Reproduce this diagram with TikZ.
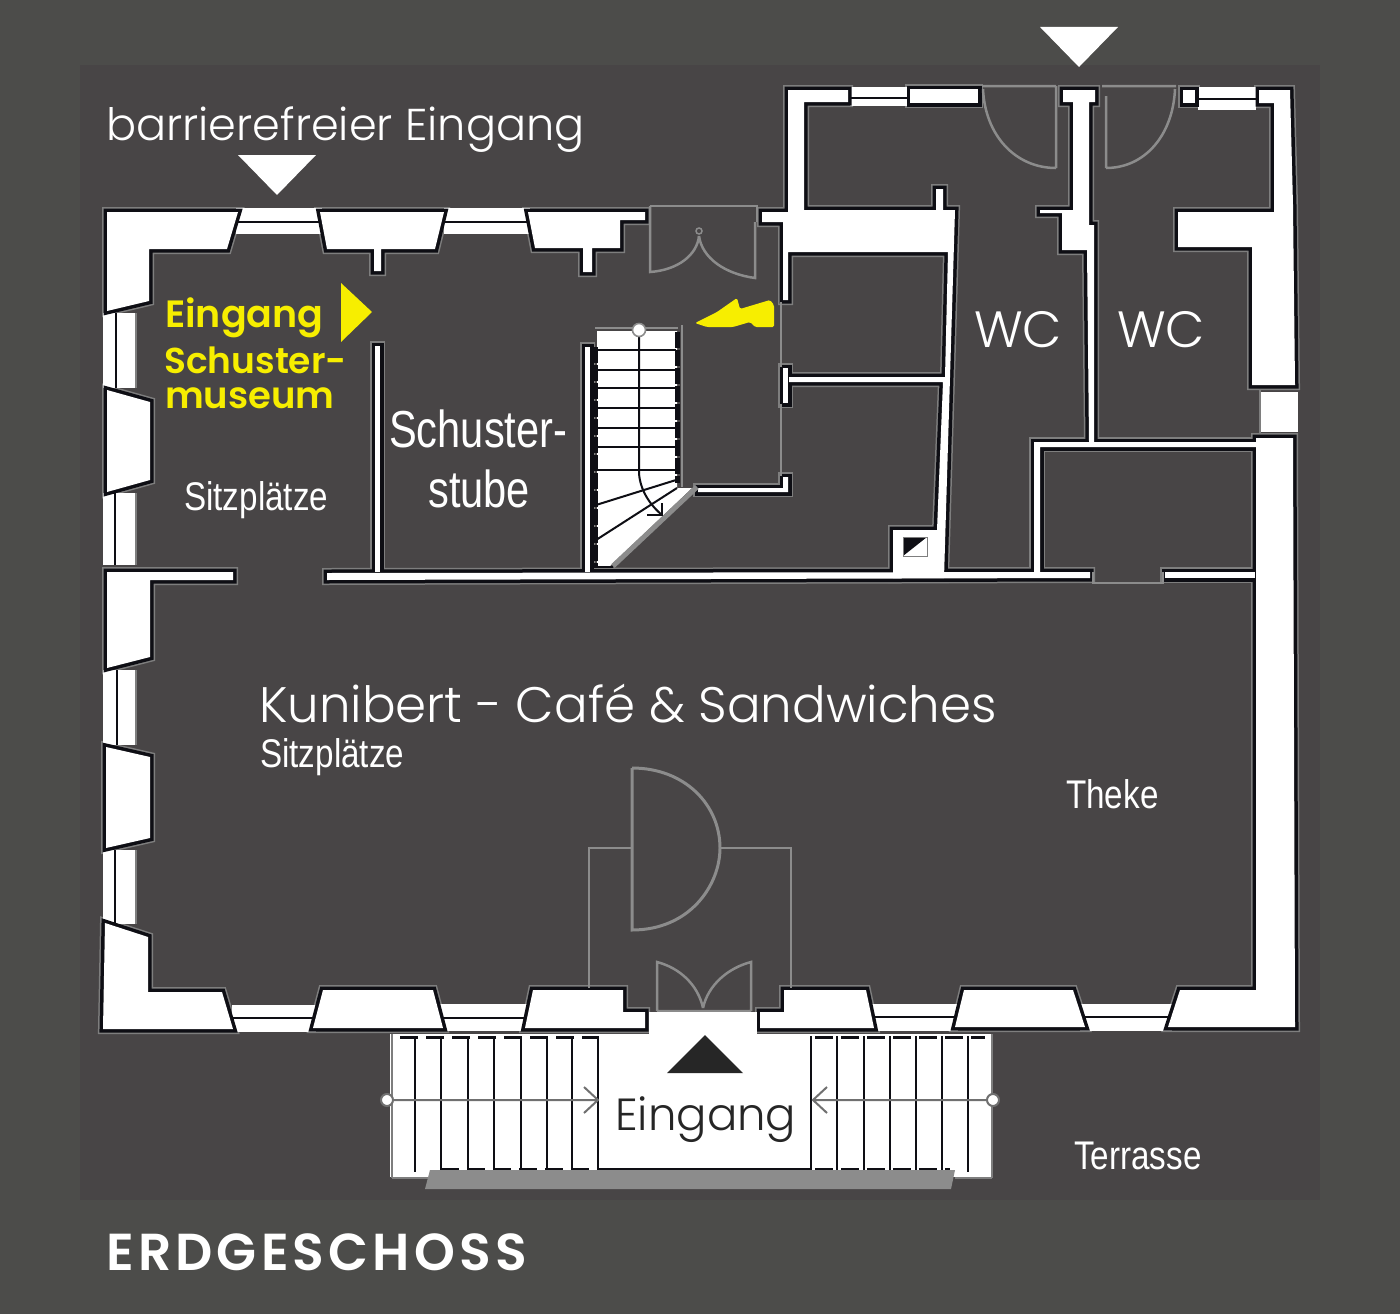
\documentclass[tikz,border=0pt]{standalone}
\usepackage{fontspec}
\setmainfont{Liberation Sans}
\newfontfamily\narrowfont[FakeStretch=0.8]{Liberation Sans}
\newfontfamily\widerfont[FakeStretch=0.83]{Liberation Sans}
\newfontfamily\geofont{Poppins Light}
\newfontfamily\boldgeo{Poppins SemiBold}
\newfontfamily\titlefont[LetterSpace=8]{Poppins SemiBold}
\definecolor{outerbg}{HTML}{4C4C4A}
\definecolor{innerbg}{HTML}{484546}
\definecolor{edgegray}{HTML}{7E7E7E}
\definecolor{doorgray}{HTML}{8C8C8C}
\definecolor{wallink}{HTML}{0E0E14}
\definecolor{signyellow}{HTML}{F7EE00}
\newcommand{\wallset}[1]{%
 \path[#1] (107,212)--(238,212)--(227,249)--(149,249)--(149,301)--(107,311)--cycle;
 \path[#1] (320,212)--(444,212)--(435,249)--(381,249)--(381,271)--(374,271)--(374,249)--(327,249)--cycle;
 \path[#1] (528,212)--(645,212)--(645,220)--(620,220)--(620,248)--(592,248)--(592,272)--(583,272)--(583,248)--(535,248)--cycle;
 \path[#1] (107,390)--(150,402)--(150,480)--(107,492)--cycle;
 \path[#1] (107,572)--(233,572)--(233,580)--(150,580)--(150,657)--(107,668)--cycle;
 \path[#1] (106,747)--(150,757)--(150,838)--(106,848)--cycle;
 \path[#1] (105,923)--(148,937)--(148,992)--(222,992)--(233,1029)--(103,1029)--cycle;
 \path[#1] (323,990)--(433,990)--(443,1028)--(313,1028)--cycle;
 \path[#1] (533,990)--(623,990)--(623,1012)--(645,1012)--(645,1028)--(525,1028)--cycle;
 \path[#1] (760,1028)--(760,1012)--(784,1012)--(784,990)--(866,990)--(874,1028)--cycle;
 \path[#1] (964,990)--(1073,990)--(1085,1027)--(955,1027)--cycle;
 \path[#1] (1256,438)--(1293,438)--(1295,1027)--(1168,1027)--(1180,990)--(1256,990)--cycle;
 \path[#1] (762,212)--(788,212)--(788,90)--(848,90)--(848,102)--(804,102)--(804,210)--(936,210)--(936,189)--(943,189)--(943,210)--(955,210)--(944,578)--(893,578)--(893,530)--(937,530)--(943,382)--(789,382)--(789,377)--(945,377)--(948,252)--(788,252)--(788,300)--(783,300)--(783,222)--(762,222)--cycle;
 \path[#1] (783,368)--(788,368)--(788,403)--(783,403)--cycle;
 \path[#1] (783,477)--(788,477)--(788,492)--(698,492)--(698,488)--(783,488)--cycle;
 \path[#1] (585,347)--(590,347)--(590,572)--(585,572)--cycle;
 \path[#1] (375,346)--(380,346)--(380,572)--(375,572)--cycle;
 \path[#1] (327,573)--(1090,572)--(1090,578)--(327,580)--cycle;
 \path[#1] (1165,572)--(1255,572)--(1255,578)--(1165,578)--cycle;
 \path[#1] (1034,442)--(1256,442)--(1256,447)--(1040,447)--(1040,572)--(1034,572)--cycle;
 \path[#1] (1063,90)--(1095,90)--(1095,102)--(1089,102)--(1089,225)--(1094,225)--(1094,442)--(1089,442)--(1087,250)--(1062,250)--(1062,213)--(1040,213)--(1040,210)--(1073,210)--(1073,102)--(1063,102)--cycle;
 \path[#1] (910,89)--(978,89)--(978,103)--(910,103)--cycle;
 \path[#1] (1183,90)--(1195,90)--(1195,103)--(1183,103)--cycle;
 \path[#1] (1259,90)--(1290,90)--(1293,205)--(1295,385)--(1252,385)--(1252,247)--(1178,247)--(1178,212)--(1274,212)--(1274,103)--(1259,103)--cycle;
}
\tikzset{
 doorline/.style={draw=doorgray,line width=2.5pt},
 stairline/.style={draw=wallink,line width=2pt},
 arrowline/.style={draw=doorgray!80!black,line width=2pt},
 narrowlabel/.style={text=white,anchor=base west,inner sep=0pt,font=\widerfont\fontsize{40}{40}\selectfont},
 geolabel/.style={text=white,anchor=base west,inner sep=0pt,font=\geofont\fontsize{45}{45}\selectfont},
 yellowlabel/.style={text=signyellow,anchor=base west,inner sep=0pt,font=\boldgeo\fontsize{37}{37}\selectfont},
}
\begin{document}
\begin{tikzpicture}[x=1pt,y=-1pt]
\useasboundingbox (0,0) rectangle (1400,1314);
\fill[outerbg] (0,0) rectangle (1400,1314);
\fill[innerbg] (80,65) rectangle (1320,1200);
% halo
\wallset{draw=edgegray,line width=10pt}
% windows
\foreach \xa/\xb/\ya/\yb/\yl in {236/322/208/234/222,444/530/208/234/222,232/316/1005/1032/1018,440/528/1004/1031/1018,870/958/1004/1031/1017,1080/1172/1004/1031/1017,850/907/87/106/98,1198/1256/87/110/99}{
 \fill[white] (\xa,\ya) rectangle (\xb,\yb);
 \draw[wallink,line width=2pt] (\xa,\yl) -- (\xb,\yl);
}
\foreach \ya/\yb/\xl in {313/388/115.5,493/565/115,670/745/116.5,850/924/115}{
 \fill[white] (103,\ya) rectangle (135,\yb);
 \draw[wallink,line width=2pt] (\xl,\ya) -- (\xl,\yb);
 \draw[edgegray,line width=1.5pt] (136,\ya) -- (136,\yb);
}
\fill[white] (1260,392) rectangle (1298,432);
\draw[edgegray,line width=1.5pt] (1260,390) -- (1260,434);
% walls
\wallset{draw=wallink,line width=7pt,miter limit=3}
\wallset{fill=white}
% upper door
\draw[doorline] (650,206) -- (757,206) -- (757,222);
\draw[doorline] (650,206) -- (650,272) .. controls (678,270) and (697,255) .. (699,236);
\draw[doorline] (755,222) -- (755,278) .. controls (725,274) and (702,258) .. (699,236);
\draw[doorline,line width=1.5pt] (699,231) circle (3);
% grey wall lines
\draw[doorline] (781,302) -- (781,367) (781,404) -- (781,476);
% annex doors
\draw[doorline] (982,86) -- (1056,86) (1056,86) -- (1056,168) (983,89) .. controls (985,135) and (1015,168) .. (1056,168);
\draw[doorline] (1102,86) -- (1176,86) (1106,96) -- (1106,168) (1175,89) .. controls (1173,135) and (1145,168) .. (1106,168);
\draw[doorline,line width=1.5pt] (1163,572) -- (1163,583) -- (1093,583) -- (1093,572);
% inner stairs
\fill[white] (597,331) -- (677,331) -- (677,488) -- (692,488) -- (610,566) -- (597,566) -- cycle;
\draw[doorline] (595,328) -- (678,328);
\draw[wallink,line width=5pt,dash pattern=on 16pt off 2pt] (595,347) -- (595,566);
\draw[wallink,line width=5pt,dash pattern=on 16pt off 2pt] (677,332) -- (677,483);
\draw[doorline] (682,325) -- (682,487);
\foreach \yy in {350,370,388,408,428,447,470}{\draw[stairline] (596,\yy) -- (676,\yy);}
\draw[stairline] (596,505) -- (676,480);
\draw[stairline] (596,540) -- (677,488);
\draw[stairline] (639,337) -- (639,473) .. controls (640,490) and (650,505) .. (662,515);
\draw[stairline,line width=1.2pt] (662,503) -- (662,515) -- (647,515);
\draw[doorline,line width=1.6pt,fill=white] (639,330) circle (6.5);
\draw[doorline,line width=5pt] (697,487) -- (613,566);
\draw[wallink,line width=2.5pt] (593,567) -- (613,567);
% flue
\fill[white] (903,537) rectangle (927,556);
\fill[wallink] (903,537) -- (927,537) -- (903,556) -- cycle;
\draw[edgegray,line width=1pt] (903,537) rectangle (927,556);
% vestibule and doors
\draw[doorline] (589,988) -- (589,848) -- (631,848) (720,848) -- (791,848) -- (791,988);
\draw[doorline,line width=3pt] (632,768) -- (632,930) .. controls (690,930) and (720,885) .. (720,848) .. controls (720,805) and (685,768) .. (632,768);
\draw[doorline] (657,1011) -- (751,1011) (657,1011) -- (657,962) .. controls (680,968) and (698,985) .. (703,1008) (751,1011) -- (751,962) .. controls (728,968) and (708,985) .. (703,1008);
% outer stairs
\fill[white] (649,1012) rectangle (757,1040);
\fill[white] (390,1034) rectangle (992,1177);
\foreach \xx in {392,992}{\draw[edgegray,line width=1.5pt] (\xx,1034) -- (\xx,1178);}
\draw[edgegray,line width=1.5pt] (392,1178) -- (430,1178) (955,1178) -- (992,1178);
\foreach \xx in {415,441,468,494,521,547,572,598,811,837,864,890,916,942,968}{\draw[stairline] (\xx,1036) -- (\xx,1172);}
\draw[wallink,line width=3pt,dash pattern=on 18pt off 8pt] (400,1037) -- (598,1037);
\draw[wallink,line width=3pt,dash pattern=on 18pt off 8pt] (815,1037) -- (985,1037);
\draw[wallink,line width=3pt,dash pattern=on 18pt off 8pt] (441,1169) -- (598,1169);
\draw[wallink,line width=3pt,dash pattern=on 18pt off 8pt] (815,1169) -- (950,1169);
\draw[stairline,line width=1.2pt] (598,1169) -- (811,1169);
\fill[doorgray] (430,1170) -- (955,1170) -- (951,1189) -- (425,1189) -- cycle;
\draw[arrowline] (393,1100) -- (598,1100) (584,1087) -- (598,1100) -- (584,1113);
\draw[arrowline] (813,1100) -- (987,1100) (827,1087) -- (813,1100) -- (827,1113);
\draw[arrowline,fill=white] (387,1100) circle (6);
\draw[arrowline,fill=white] (993,1100) circle (6);
% markers
\fill[white] (1040,27) -- (1118,27) -- (1079,67) -- cycle;
\fill[white] (238,155) -- (316,155) -- (277,195) -- cycle;
\fill[signyellow] (341,283) -- (372,312) -- (341,342) -- cycle;
\fill[black!85] (705,1035) -- (743,1073) -- (667,1073) -- cycle;
% shoe
\fill[signyellow,rounded corners=1.5pt] (695,323) -- (717,312) -- (737,298) -- (740,309) -- (770,300) -- (774,305) -- (774,327) -- (755,327) -- (750,322) -- (733,327) -- (707,327) -- cycle;
% texts
\node[geolabel,font=\geofont\fontsize{44.6}{46}\selectfont] (tbarriere) at (106,140) {barrierefreier Eingang};
\node[yellowlabel,font=\boldgeo\fontsize{38}{38}\selectfont] (tein) at (165,327) {Eingang};
\node[yellowlabel,font=\boldgeo\fontsize{36}{36}\selectfont] (tschu) at (164,373) {Schuster-};
\node[yellowlabel] (tmus) at (165,408) {museum};
\node[narrowlabel,font=\narrowfont\fontsize{52}{52}\selectfont] (tstubea) at (389,447) {Schuster-};
\node[narrowlabel,font=\narrowfont\fontsize{52}{52}\selectfont] (tstubeb) at (428,507) {stube};
\node[narrowlabel] (tsitza) at (184,510) {Sitzplätze};
\node[narrowlabel] (tsitzb) at (260,767) {Sitzplätze};
\node[narrowlabel] (ttheke) at (1066,808) {Theke};
\node[narrowlabel] (tterr) at (1074,1169) {Terrasse};
\node[geolabel,font=\geofont\fontsize{49.9}{50}\selectfont] (tkuni) at (259,722) {Kunibert - Café \& Sandwiches};
\node[geolabel,font=\geofont\fontsize{51}{51}\selectfont] (twca) at (974,347) {WC};
\node[geolabel,font=\geofont\fontsize{51}{51}\selectfont] (twcb) at (1117,347) {WC};
\node[geolabel,text=black!85] (teing) at (615,1130) {Eingang};
\node[anchor=base west,inner sep=0pt,text=white,font=\titlefont\fontsize{52}{52}\selectfont] (ttitle) at (106,1270) {ERDGESCHOSS};
\end{tikzpicture}
\end{document}
